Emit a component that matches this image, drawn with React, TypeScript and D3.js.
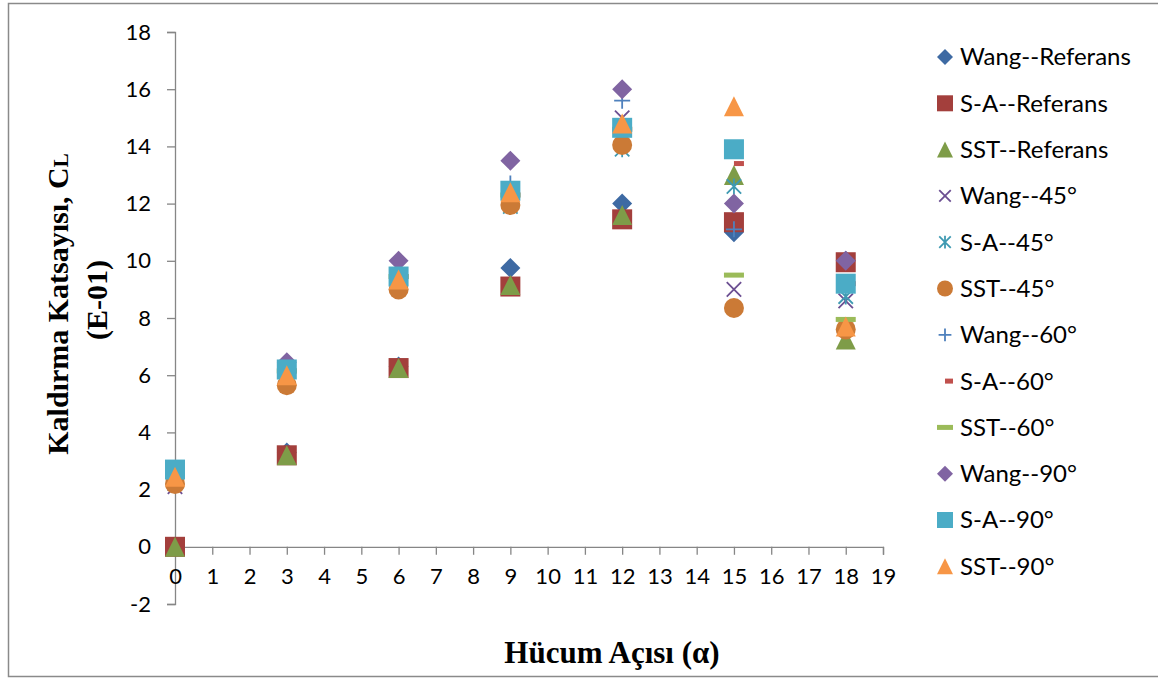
import * as d3 from 'd3';
import { useEffect, useRef } from 'react';

// attack angles (x) and lift coefficient values (E-01) per series
const angles = [0, 3, 6, 9, 12, 15, 18];

const wangRef = [0, 3.3, 6.3, 9.75, 12.0, 11.0, 10.0];
const saRef = [0, 3.2, 6.25, 9.1, 11.45, 11.35, 9.95];
const sstRef = [0, 3.2, 6.25, 9.15, 11.6, 13.0, 7.25];
const wang45 = [2.1, 6.15, 9.45, 12.3, 15.0, 9.0, 8.6];
const sa45 = [2.3, 6.15, 9.45, 11.9, 13.9, 12.6, 8.75];
const sst45 = [2.2, 5.65, 9.0, 11.95, 14.05, 8.35, 7.6];
const wang60 = [2.6, 6.15, 9.45, 12.7, 15.6, 11.1, 9.2];
const sa60 = [2.6, 6.15, 9.45, 12.3, 14.6, 13.4, 9.2];
const sst60 = [2.6, 6.15, 9.45, 12.3, 14.6, 9.5, 7.95];
const wang90 = [2.5, 6.45, 10.0, 13.5, 16.0, 12.0, 10.0];
const sa90 = [2.7, 6.2, 9.45, 12.45, 14.65, 13.9, 9.2];
const sst90 = [2.45, 6.0, 9.35, 12.4, 14.8, 15.4, 7.7];

const yTicks = [-2, 0, 2, 4, 6, 8, 10, 12, 14, 16, 18];
const xTicks = d3.range(0, 20);

type Shape = 'diamond' | 'square' | 'triangle' | 'x' | 'asterisk' | 'circle' | 'plus' | 'shortdash' | 'longdash';

const series: { name: string; values: number[]; shape: Shape; color: string }[] = [
  { name: 'Wang--Referans', values: wangRef, shape: 'diamond', color: '#3E6AA3' },
  { name: 'S-A--Referans', values: saRef, shape: 'square', color: '#A33F3C' },
  { name: 'SST--Referans', values: sstRef, shape: 'triangle', color: '#7E9C48' },
  { name: 'Wang--45°', values: wang45, shape: 'x', color: '#6C4F92' },
  { name: 'S-A--45°', values: sa45, shape: 'asterisk', color: '#3F9AB2' },
  { name: 'SST--45°', values: sst45, shape: 'circle', color: '#CB7A36' },
  { name: 'Wang--60°', values: wang60, shape: 'plus', color: '#4F81BD' },
  { name: 'S-A--60°', values: sa60, shape: 'shortdash', color: '#C0504D' },
  { name: 'SST--60°', values: sst60, shape: 'longdash', color: '#9BBB59' },
  { name: 'Wang--90°', values: wang90, shape: 'diamond', color: '#8064A2' },
  { name: 'S-A--90°', values: sa90, shape: 'square', color: '#4BACC6' },
  { name: 'SST--90°', values: sst90, shape: 'triangle', color: '#F79646' },
];

function drawMarker(
  g: d3.Selection<SVGGElement, unknown, null, undefined>,
  shape: Shape,
  color: string,
  h: number
) {
  const sw = 1.8;
  if (shape === 'diamond') {
    g.append('path').attr('d', `M0,${-h}L${h},0L0,${h}L${-h},0Z`).attr('fill', color);
  } else if (shape === 'square') {
    g.append('rect').attr('x', -h).attr('y', -h).attr('width', 2 * h).attr('height', 2 * h).attr('fill', color);
  } else if (shape === 'triangle') {
    g.append('path').attr('d', `M0,${-h}L${h},${h}L${-h},${h}Z`).attr('fill', color);
  } else if (shape === 'circle') {
    g.append('circle').attr('r', h).attr('fill', color);
  } else if (shape === 'x' || shape === 'asterisk') {
    const a = h * 0.72;
    g.append('path')
      .attr('d', `M${-a},${-a}L${a},${a}M${-a},${a}L${a},${-a}` + (shape === 'asterisk' ? `M0,${-h * 0.8}L0,${h * 0.8}` : ''))
      .attr('stroke', color)
      .attr('stroke-width', sw)
      .attr('fill', 'none');
  } else if (shape === 'plus') {
    const a = h * 0.8;
    g.append('path')
      .attr('d', `M${-a},0L${a},0M0,${-a}L0,${a}`)
      .attr('stroke', color)
      .attr('stroke-width', sw)
      .attr('fill', 'none');
  } else if (shape === 'shortdash') {
    g.append('rect').attr('x', 0).attr('y', -2.5).attr('width', h).attr('height', 5).attr('fill', color);
  } else if (shape === 'longdash') {
    g.append('rect').attr('x', -h).attr('y', -2.5).attr('width', 2 * h).attr('height', 5).attr('fill', color);
  }
}

export default function App() {
  const svgRef = useRef<SVGSVGElement>(null);

  useEffect(() => {
    if (!svgRef.current) return;
    const W = 1158;
    const H = 679;
    const svg = d3.select(svgRef.current);
    svg.selectAll('*').remove();
    svg.attr('width', W).attr('height', H);

    svg.append('rect').attr('width', W).attr('height', H).attr('fill', '#fff');
    // chart area border
    svg
      .append('rect')
      .attr('x', 8.5)
      .attr('y', 3.5)
      .attr('width', 1160)
      .attr('height', 673)
      .attr('fill', 'none')
      .attr('stroke', '#8a8a8a')
      .attr('stroke-width', 1.5);

    const x = d3.scaleLinear().domain([0, 19]).range([175, 883]);
    const y = d3.scaleLinear().domain([-2, 18]).range([604, 32]);

    const axisColor = '#868686';
    const tickFont = 'Lato, "Open Sans", sans-serif';

    // Y axis
    const yAxis = svg
      .append('g')
      .attr('transform', `translate(${x(0)},0)`)
      .call(d3.axisLeft(y).tickValues(yTicks).tickSize(8).tickPadding(16).tickFormat(d3.format('d')));
    yAxis.select('.domain').attr('stroke', axisColor).attr('stroke-width', 1.3);
    yAxis.selectAll('.tick line').attr('stroke', axisColor).attr('stroke-width', 1.3);
    yAxis
      .selectAll('.tick text')
      .attr('fill', '#000')
      .style('font-family', tickFont)
      .style('font-size', '22px')
      .text((d: any) => (d < 0 ? '-' + Math.abs(d) : String(d)));

    // X axis (crosses at y = 0)
    const xAxis = svg
      .append('g')
      .attr('transform', `translate(0,${y(0)})`)
      .call(d3.axisBottom(x).tickValues(xTicks).tickSize(8).tickPadding(14).tickFormat(d3.format('d')));
    xAxis.select('.domain').attr('stroke', axisColor).attr('stroke-width', 1.3);
    xAxis.selectAll('.tick line').attr('stroke', axisColor).attr('stroke-width', 1.3);
    xAxis
      .selectAll('.tick text')
      .attr('fill', '#000')
      .style('font-family', tickFont)
      .style('font-size', '22px');

    // markers
    const plot = svg.append('g');
    series.forEach((s) => {
      s.values.forEach((v, i) => {
        const g = plot.append('g').attr('transform', `translate(${x(angles[i])},${y(v)})`);
        drawMarker(g, s.shape, s.color, 10);
      });
    });

    // legend
    const legend = svg.append('g');
    series.forEach((s, i) => {
      const cy = 57 + i * 46.3;
      const g = legend.append('g').attr('transform', `translate(945,${cy})`);
      drawMarker(g, s.shape, s.color, 8);
      legend
        .append('text')
        .attr('x', 960)
        .attr('y', cy)
        .attr('dy', '0.35em')
        .style('font-family', tickFont)
        .style('font-size', '24px')
        .attr('fill', '#000')
        .text(s.name);
    });

    const titleFont = '"Liberation Serif", "Times New Roman", serif';
    // y title
    const yt = svg
      .append('text')
      .attr('transform', 'translate(68,304) rotate(-90)')
      .attr('text-anchor', 'middle')
      .style('font-family', titleFont)
      .style('font-weight', 'bold')
      .style('font-size', '30px');
    yt.append('tspan').text('Kaldırma Katsayısı, C');
    yt.append('tspan').style('font-size', '21px').text('L');
    svg
      .append('text')
      .attr('transform', 'translate(107,300) rotate(-90)')
      .attr('text-anchor', 'middle')
      .style('font-family', titleFont)
      .style('font-weight', 'bold')
      .style('font-size', '30px')
      .text('(E-01)');

    // x title
    svg
      .append('text')
      .attr('x', 612)
      .attr('y', 663)
      .attr('text-anchor', 'middle')
      .style('font-family', titleFont)
      .style('font-weight', 'bold')
      .style('font-size', '31px')
      .text('Hücum Açısı (α)');
  }, []);

  return <svg ref={svgRef} style={{ position: 'absolute', left: 0, top: 0 }} />;
}
